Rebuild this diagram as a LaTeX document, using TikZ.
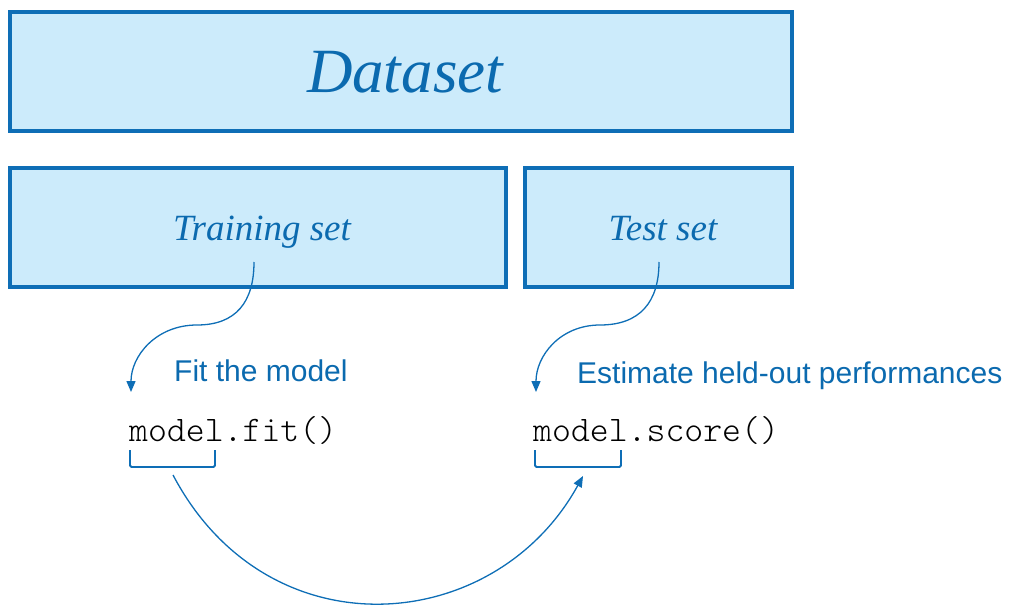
\documentclass[tikz,border=0pt]{standalone}
\usepackage{fontspec}
\newfontfamily\sansf{Liberation Sans}
\newfontfamily\seriff{Liberation Serif}
\newfontfamily\monof{Latin Modern Mono Light}
\usetikzlibrary{arrows.meta}
\definecolor{bord}{HTML}{0E6EB6}
\definecolor{fillb}{HTML}{CCEBFB}
\definecolor{txtb}{HTML}{0B6AAF}
\begin{document}
\begin{tikzpicture}[x=1pt,y=-1pt,
  setbox/.style={draw=bord,fill=fillb,line width=3.5pt,inner sep=0pt,minimum height=119pt},
  settext/.style={text=txtb,inner sep=0pt,anchor=base,font=\seriff\fontsize{37}{39}\selectfont\itshape},
  sanslabel/.style={text=txtb,inner sep=0pt,anchor=base west,font=\sansf\fontsize{30}{32}\selectfont},
  code/.style={text=black,inner sep=0pt,anchor=base west,font=\monof\fontsize{36}{38}\selectfont},
  conn/.style={draw=bord,line width=1.3pt,-{Triangle[length=11pt,width=9pt]}},
  brk/.style={draw=bord,line width=1.8pt,rounded corners=1.5pt}]
\useasboundingbox (0,0) rectangle (1018,616);
% boxes
\node[setbox,minimum width=782pt] (ds) at (401,71.5) {};
\node[setbox,minimum width=496pt] (tr) at (258,227.5) {};
\node[setbox,minimum width=267pt] (te) at (658.5,227.5) {};
% box texts
\node[settext,font=\seriff\fontsize{63}{65}\selectfont\itshape] (dst) at (405,92) {Dataset};
\node[settext] (trt) at (262,240) {Training set};
\node[settext] (tet) at (663,240) {Test set};
% labels
\node[sanslabel] (fitl) at (174,381) {Fit the model};
\node[sanslabel] (estl) at (577,383) {Estimate held-out performances};
% code
\node[code] (fit) at (129,441) {model.fit()};
\node[code] (score) at (533,441) {model.score()};
% coordinates
\coordinate (trs) at (254,262);
\coordinate (trm) at (197,325);
\coordinate (trtip) at (131,392);
\coordinate (tes) at (659,262);
\coordinate (tem) at (600,325);
\coordinate (tetip) at (536,392);
\coordinate (arcs) at (173,475);
\coordinate (arctip) at (583,476);
% S connectors
\draw[conn] (trs) .. controls (254,302) and (236,325) .. (trm) .. controls (156,325) and (131,356) .. (trtip);
\draw[conn] (tes) .. controls (659,302) and (640,325) .. (tem) .. controls (560,325) and (536,356) .. (tetip);
% brackets
\draw[brk] (130,450) -- (130,467) -- (215,467) -- (215,450);
\draw[brk] (535,450) -- (535,467) -- (621,467) -- (621,450);
% big arc
\draw[conn] (arcs) .. controls (268,655) and (495,636) .. (arctip);
\end{tikzpicture}
\end{document}
